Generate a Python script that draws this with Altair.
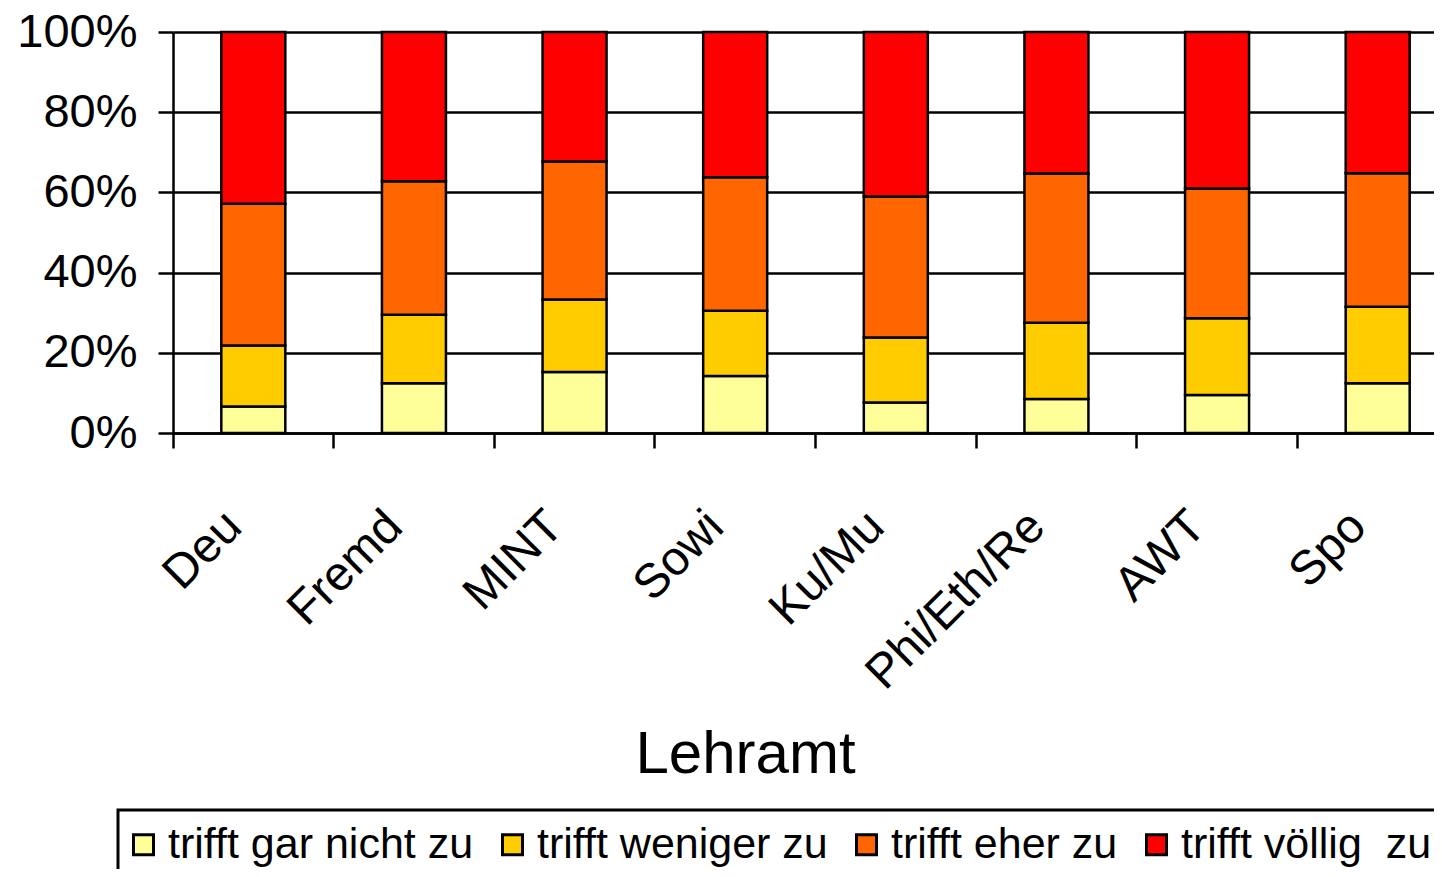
import altair as alt
import pandas as pd

categories = ["Deu", "Fremd", "MINT", "Sowi", "Ku/Mu", "Phi/Eth/Re", "AWT", "Spo"]
series = ["trifft gar nicht zu", "trifft weniger zu", "trifft eher zu", "trifft völlig\u00a0 zu"]
gar_nicht = [6.6, 12.4, 15.2, 14.2, 7.6, 8.5, 9.5, 12.4]
weniger = [15.2, 17.1, 18.1, 16.3, 16.2, 19.0, 19.1, 19.1]
eher = [35.4, 33.3, 34.4, 33.3, 35.2, 37.2, 32.4, 33.3]
voellig = [42.8, 37.2, 32.3, 36.2, 41.0, 35.3, 39.0, 35.2]
colors = ["#FFFF99", "#FFCC00", "#FF6600", "#FF0000"]

rows = []
for s_i, (name, vals) in enumerate(zip(series, [gar_nicht, weniger, eher, voellig])):
    for cat, v in zip(categories, vals):
        rows.append({"Lehramt": cat, "Antwort": name, "order": s_i, "value": v})
df = pd.DataFrame(rows)

FONT = "Liberation Sans"

chart = alt.Chart(df).mark_bar(stroke="black", strokeWidth=2.5, size=64).encode(
    x=alt.X(
        "Lehramt:N",
        sort=categories,
        scale=alt.Scale(paddingInner=0, paddingOuter=0),
        axis=alt.Axis(
            title="Lehramt",
            labelAngle=315,
            labelFontSize=48,
            labelPadding=54,
            labelOffset=-36,
            labelLimit=0,
            labelColor="black",
            labelFont=FONT,
            tickSize=15,
            tickWidth=2.5,
            tickColor="black",
            domainColor="black",
            domainWidth=2.5,
            bandPosition=0,
            grid=False,
            titleFontSize=60,
            titleFont=FONT,
            titleFontWeight="normal",
            titleColor="black",
            titleX=572,
            titleY=339,
            titleAlign="center",
            titleBaseline="alphabetic",
        ),
    ),
    y=alt.Y(
        "value:Q",
        stack="normalize",
        scale=alt.Scale(domain=[0, 1]),
        axis=alt.Axis(
            title=None,
            format="%",
            values=[0, 0.2, 0.4, 0.6, 0.8, 1.0],
            labelFontSize=47,
            labelFont=FONT,
            labelColor="black",
            labelPadding=21,
            tickSize=15,
            tickWidth=2.5,
            tickColor="black",
            domainColor="black",
            domainWidth=2.5,
            grid=True,
            gridColor="black",
            gridWidth=2.5,
        ),
    ),
    color=alt.Color(
        "Antwort:N",
        sort=series,
        scale=alt.Scale(domain=series, range=colors),
        legend=alt.Legend(
            title=None,
            orient="none",
            legendX=-55,
            legendY=778,
            direction="horizontal",
            columns=4,
            labelFontSize=43,
            labelFont=FONT,
            labelColor="black",
            labelLimit=0,
            symbolType="square",
            symbolSize=400,
            symbolStrokeColor="black",
            symbolStrokeWidth=3,
            symbolOpacity=1,
            symbolOffset=-9,
            labelOffset=3,
            columnPadding=22,
            padding=13,
            strokeColor="black",
        ),
    ),
    order=alt.Order("order:Q", sort="ascending"),
).properties(
    width=1285,
    height=401,
    autosize=alt.AutoSizeParams(type="none"),
    padding={"left": 165, "top": 24, "right": -24, "bottom": 436},
).configure_view(
    strokeWidth=0
).configure_legend(
    strokeWidth=3
)

chart.save("out.html", embed_options={"renderer": "svg", "actions": False})
